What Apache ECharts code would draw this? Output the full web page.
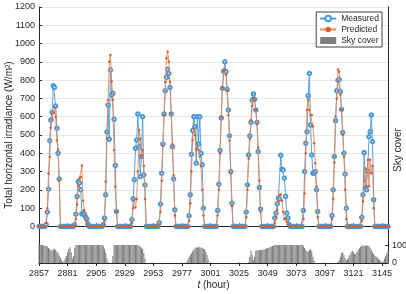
<!DOCTYPE html>
<html>
<head>
<meta charset="utf-8">
<script src="https://cdn.jsdelivr.net/npm/echarts@6/dist/echarts.min.js"></script>
<style>
html, body { margin: 0; padding: 0; background: #fff; }
#chart { width: 406px; height: 294px; }
</style>
</head>
<body>
<div id="chart"></div>
<script>
var startHour = 2857;
var endHour = 3150;
var firstStored = 5; // hour of day of the first value in each day array below
var xTicks = [2857, 2881, 2905, 2929, 2953, 2977, 3001, 3025, 3049, 3073, 3097, 3121, 3145];
var yTicks = [0, 100, 200, 300, 400, 500, 600, 700, 800, 900, 1000, 1100, 1200];
var skyTicks = [0, 100];

// irradiance, hours 5..19 of each day (W/m2)
var measuredDays = [
    [0, 10, 78, 204, 469, 582, 624, 769, 760, 658, 537, 400, 260, 0, 0],
    [0, 10, 67, 164, 246, 237, 200, 68, 74, 67, 52, 41, 15, 0, 0],
    [0, 10, 46, 173, 517, 664, 477, 855, 718, 728, 586, 333, 82, 0, 0],
    [0, 37, 151, 255, 427, 473, 615, 436, 273, 382, 600, 282, 227, 0, 0],
    [20, 122, 291, 451, 615, 742, 815, 860, 837, 760, 615, 436, 260, 91, 0],
    [0, 58, 173, 395, 524, 600, 546, 346, 600, 451, 600, 400, 337, 100, 0],
    [0, 87, 231, 415, 593, 755, 849, 900, 846, 749, 637, 495, 300, 127, 0],
    [0, 78, 227, 391, 495, 569, 691, 724, 695, 637, 569, 409, 213, 95, 0],
    [0, 46, 73, 124, 155, 150, 389, 313, 309, 264, 164, 73, 46, 10, 0],
    [0, 87, 300, 455, 518, 715, 837, 555, 391, 291, 291, 300, 200, 82, 0],
    [0, 60, 200, 382, 578, 742, 800, 804, 737, 640, 513, 400, 286, 100, 0],
    [0, 0, 50, 173, 404, 209, 200, 300, 491, 518, 609, 464, 146, 0, 0]
];
var predictedDays = [
    [0, 20, 100, 290, 380, 540, 590, 620, 650, 600, 470, 420, 250, 0, 0],
    [0, 5, 40, 120, 220, 264, 270, 333, 140, 90, 60, 30, 10, 0, 0],
    [0, 5, 30, 246, 480, 690, 900, 937, 792, 691, 418, 218, 82, 0, 0],
    [0, 20, 100, 146, 104, 150, 300, 527, 480, 385, 418, 330, 150, 0, 0],
    [10, 80, 250, 440, 610, 790, 920, 955, 900, 790, 620, 450, 280, 60, 0],
    [0, 30, 127, 300, 473, 537, 500, 418, 430, 418, 382, 330, 200, 60, 0],
    [0, 60, 200, 400, 600, 760, 850, 860, 830, 740, 610, 470, 290, 110, 0],
    [0, 50, 200, 370, 480, 580, 660, 700, 690, 640, 560, 430, 250, 80, 0],
    [0, 20, 50, 90, 140, 173, 175, 140, 80, 40, 45, 25, 10, 0, 0],
    [0, 40, 180, 400, 637, 691, 637, 609, 609, 546, 455, 346, 218, 50, 0],
    [0, 40, 150, 350, 600, 700, 858, 846, 720, 640, 500, 380, 200, 40, 0],
    [0, 0, 30, 136, 250, 318, 220, 364, 220, 364, 291, 330, 100, 0, 0]
];
// sky cover, 24 hours per day
var skyCoverDays = [
    [100, 100, 100, 100, 98, 97, 95, 92, 85, 78, 70, 68, 75, 80, 72, 63, 55, 42, 30, 16, 5, 12, 25, 40],
    [60, 78, 87, 60, 25, 40, 85, 100, 100, 100, 100, 100, 100, 100, 100, 100, 100, 100, 100, 100, 100, 100, 100, 100],
    [100, 100, 100, 100, 100, 100, 95, 80, 55, 25, 5, 0, 0, 0, 40, 100, 100, 100, 100, 100, 100, 100, 100, 100],
    [100, 100, 100, 100, 100, 100, 100, 100, 100, 100, 100, 100, 96, 92, 85, 78, 55, 25, 0, 0, 0, 0, 0, 4],
    [0, 0, 0, 0, 0, 0, 0, 0, 0, 0, 0, 0, 0, 0, 0, 0, 0, 0, 0, 0, 0, 0, 0, 0],
    [4, 0, 0, 0, 5, 20, 35, 45, 55, 65, 75, 82, 87, 85, 90, 87, 86, 84, 80, 78, 62, 45, 20, 0],
    [4, 0, 0, 0, 0, 0, 0, 0, 0, 0, 0, 0, 0, 0, 0, 0, 0, 0, 0, 0, 0, 0, 0, 0],
    [4, 0, 0, 0, 0, 0, 0, 0, 5, 35, 68, 45, 15, 35, 68, 70, 70, 72, 72, 73, 74, 75, 78, 82],
    [84, 86, 88, 92, 95, 98, 100, 100, 100, 100, 100, 100, 100, 100, 100, 100, 100, 100, 100, 100, 100, 100, 100, 100],
    [100, 100, 100, 100, 100, 100, 95, 85, 72, 62, 65, 72, 78, 65, 35, 12, 0, 0, 0, 0, 0, 0, 0, 4],
    [0, 0, 0, 0, 0, 0, 0, 0, 0, 0, 0, 5, 15, 35, 55, 60, 45, 28, 15, 20, 32, 45, 58, 68],
    [60, 52, 50, 62, 75, 82, 90, 96, 97, 96, 96, 97, 96, 95, 85, 72, 60, 50, 42, 36, 30, 24, 18, 10]
];
var skyCoverTail = [4, 8, 25, 40, 55, 70];

var hours = [];
for (var t = startHour; t <= endHour; t++) {
    hours.push(String(t));
}

function hourly(days) {
    var out = [];
    for (var d = 0; d < days.length; d++) {
        for (var h = 0; h < 24; h++) {
            var k = h - firstStored;
            out.push(k >= 0 && k < days[d].length ? days[d][k] : 0);
        }
    }
    while (out.length < hours.length) out.push(0);
    return out;
}

var measured = hourly(measuredDays);
var predicted = hourly(predictedDays);
var skyCover = [];
for (var d = 0; d < skyCoverDays.length; d++) {
    skyCover = skyCover.concat(skyCoverDays[d]);
}
skyCover = skyCover.concat(skyCoverTail);

var font = 'Liberation Sans, Arial, sans-serif';
var ink = '#262626';
var blue = '#4898d6';
var orange = '#e8865a';

var gridColors = ['rgba(0,0,0,0)', 'rgba(0,0,0,0)'];
for (var i = 0; i < yTicks.length; i++) gridColors.push('#e6e6e6');

var myChart = echarts.init(document.getElementById('chart'));

var option = {
    animation: false,
    textStyle: { fontFamily: font },
    grid: { left: 39, top: 7, width: 349, height: 256, outerBoundsMode: 'none', containLabel: false },
    legend: {
        orient: 'vertical',
        right: 24,
        top: 12,
        padding: [2, 3, 2, 3],
        itemGap: 2,
        itemWidth: 16,
        itemHeight: 7,
        borderColor: '#404040',
        borderWidth: 1,
        backgroundColor: '#fff',
        textStyle: { fontSize: 8.5, color: ink, fontFamily: font },
        data: [
            { name: 'Measured' },
            { name: 'Predicted' },
            { name: 'Sky cover', icon: 'rect' }
        ]
    },
    xAxis: [{
        type: 'category',
        data: hours,
        boundaryGap: false,
        axisLine: { lineStyle: { color: ink } },
        axisTick: { inside: true, length: 3, interval: 23, lineStyle: { color: ink } },
        axisLabel: { interval: 23, fontSize: 9, color: ink, margin: 6, fontFamily: font },
        splitLine: { show: false },
        name: '{i|t} (hour)',
        nameLocation: 'middle',
        nameGap: 17,
        nameMoveOverlap: false,
        nameTextStyle: {
            fontSize: 10, color: ink, fontFamily: font,
            rich: { i: { fontStyle: 'italic', fontSize: 10, color: ink, fontFamily: font } }
        }
    }, {
        type: 'category',
        data: hours,
        boundaryGap: false,
        position: 'top',
        axisLine: { lineStyle: { color: ink } },
        axisTick: { inside: true, length: 3, interval: 23, lineStyle: { color: ink } },
        axisLabel: { show: false },
        splitLine: { show: false }
    }],
    yAxis: [{
        type: 'value',
        min: -200,
        max: 1200,
        interval: 100,
        axisLine: { show: true, lineStyle: { color: ink } },
        axisTick: { show: true, inside: true, length: 3, customValues: yTicks, lineStyle: { color: ink } },
        axisLabel: {
            fontSize: 9, color: ink, margin: 4, fontFamily: font,
            customValues: yTicks,
            formatter: function (v) { return v < 0 ? '' : String(v); }
        },
        splitLine: { show: true, lineStyle: { color: gridColors, width: 1 } },
        name: 'Total horizontal irradiance (W/m²)',
        nameLocation: 'middle',
        nameGap: 25,
        nameRotate: 90,
        nameMoveOverlap: false,
        nameTextStyle: { fontSize: 10, color: ink, fontFamily: font }
    }, {
        type: 'value',
        position: 'right',
        min: 0,
        max: 1425,
        interval: 100,
        axisLine: { show: true, lineStyle: { color: ink } },
        axisTick: { show: true, inside: true, length: 3, customValues: skyTicks, lineStyle: { color: ink } },
        axisLabel: {
            fontSize: 9, color: ink, margin: 4, fontFamily: font,
            customValues: skyTicks,
            formatter: function (v) { return v > 100 ? '' : String(v); }
        },
        splitLine: { show: false },
        name: 'Sky cover',
        nameLocation: 'middle',
        nameGap: 5,
        nameRotate: 90,
        nameMoveOverlap: false,
        nameTextStyle: { fontSize: 10, color: ink, fontFamily: font, padding: [0, 30, 0, 0] }
    }],
    series: [{
        name: 'Sky cover',
        type: 'bar',
        xAxisIndex: 0,
        yAxisIndex: 1,
        data: skyCover,
        barWidth: '90%',
        itemStyle: { color: '#7f7f7f' },
        z: 1
    }, {
        name: 'Measured',
        type: 'line',
        xAxisIndex: 0,
        yAxisIndex: 0,
        data: measured,
        symbol: 'emptyCircle',
        symbolSize: 3.5,
        showAllSymbol: true,
        lineStyle: { color: blue, width: 0.9 },
        itemStyle: { color: blue, borderWidth: 0.8 },
        z: 3
    }, {
        name: 'Predicted',
        type: 'line',
        xAxisIndex: 0,
        yAxisIndex: 0,
        data: predicted,
        symbol: 'circle',
        symbolSize: 2.5,
        showAllSymbol: true,
        lineStyle: { color: orange, width: 0.9 },
        itemStyle: { color: '#d9602c' },
        z: 4
    }]
};

myChart.setOption(option);
</script>
</body>
</html>
